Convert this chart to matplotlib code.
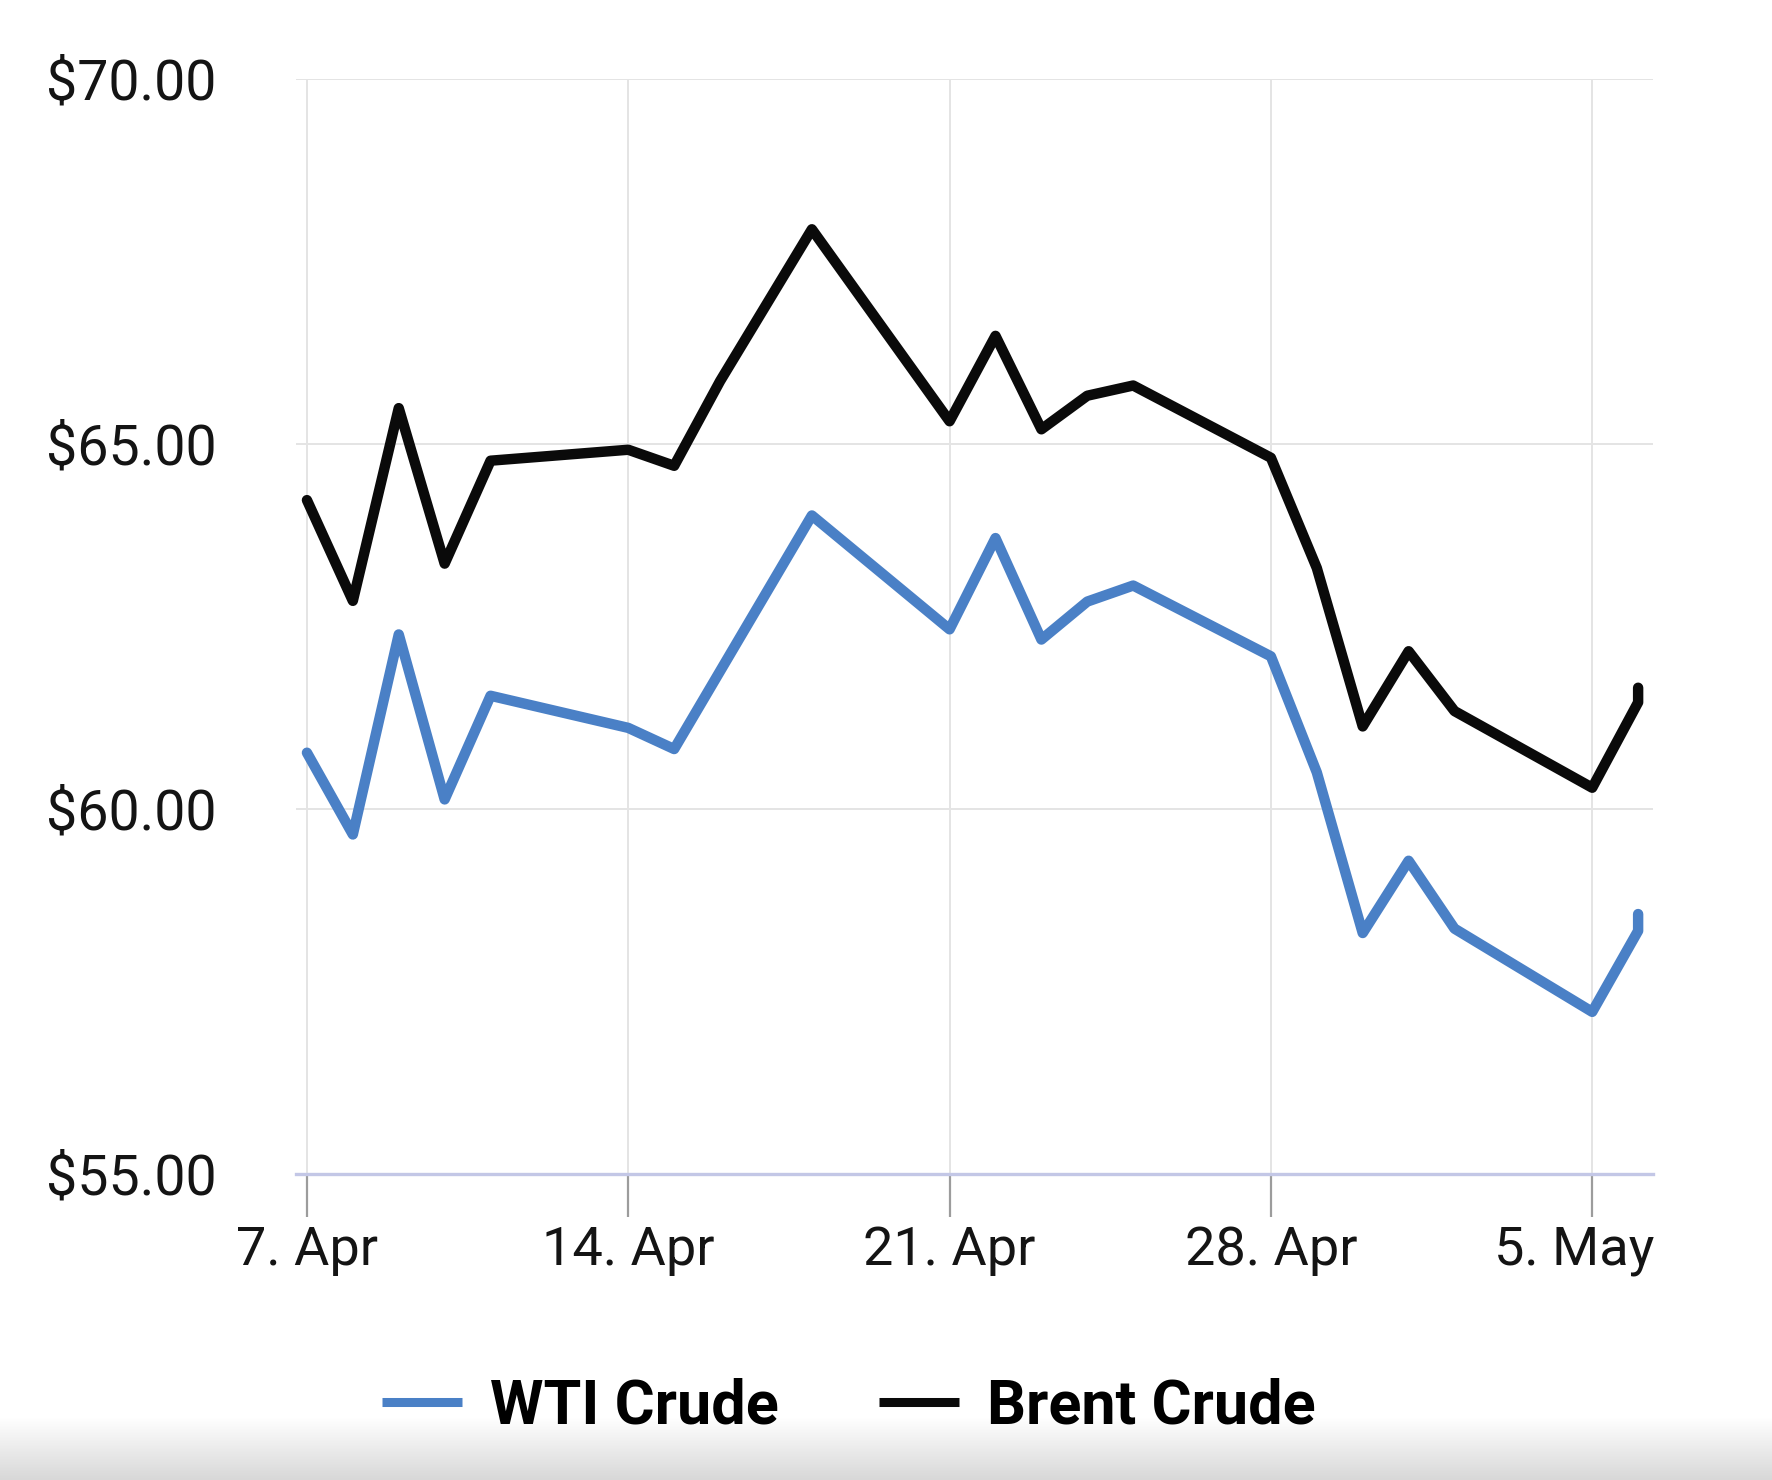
import matplotlib
matplotlib.use('Agg')
import matplotlib.pyplot as plt
import matplotlib.dates as mdates
import matplotlib.transforms as mtransforms
import numpy as np
import pandas as pd
from matplotlib.colors import LinearSegmentedColormap

# Daily closing prices
wti_dates = pd.to_datetime([
    '2025-04-07', '2025-04-08', '2025-04-09', '2025-04-10', '2025-04-11',
    '2025-04-14', '2025-04-15', '2025-04-18',
    '2025-04-21', '2025-04-22', '2025-04-23', '2025-04-24', '2025-04-25',
    '2025-04-28', '2025-04-29', '2025-04-30', '2025-05-01', '2025-05-02',
    '2025-05-05', '2025-05-06', '2025-05-06'])
wti_prices = [60.77, 59.65, 62.39, 60.13, 61.55,
              61.11, 60.82, 64.02,
              62.46, 63.71, 62.32, 62.84, 63.06,
              62.09, 60.50, 58.30, 59.29, 58.36,
              57.22, 58.33, 58.56]

brent_dates = pd.to_datetime([
    '2025-04-07', '2025-04-08', '2025-04-09', '2025-04-10', '2025-04-11',
    '2025-04-14', '2025-04-15', '2025-04-16', '2025-04-18',
    '2025-04-21', '2025-04-22', '2025-04-23', '2025-04-24', '2025-04-25',
    '2025-04-28', '2025-04-29', '2025-04-30', '2025-05-01', '2025-05-02',
    '2025-05-05', '2025-05-06', '2025-05-06'])
brent_prices = [64.23, 62.85, 65.49, 63.36, 64.77,
                64.92, 64.70, 65.86, 67.94,
                65.31, 66.48, 65.20, 65.66, 65.80,
                64.81, 63.30, 61.13, 62.16, 61.34,
                60.29, 61.46, 61.66]

tick_dates = pd.to_datetime(['2025-04-07', '2025-04-14', '2025-04-21',
                             '2025-04-28', '2025-05-05'])
tick_labels = ['7. Apr', '14. Apr', '21. Apr', '28. Apr', '5. May']
y_ticks = [55, 60, 65, 70]
y_tick_labels = ['$55.00', '$60.00', '$65.00', '$70.00']

wti_color = '#4a80c6'
brent_color = '#0a0a0a'

plt.rcParams['font.family'] = ['Roboto', 'DejaVu Sans']

fig = plt.figure(figsize=(17.72, 14.8), dpi=100)
ax = fig.add_axes([0.167, 0.2068, 0.766, 0.7399])

ax.plot(wti_dates, wti_prices, color=wti_color, linewidth=7.5,
        solid_joinstyle='round', solid_capstyle='round', label='WTI Crude', zorder=3)
ax.plot(brent_dates, brent_prices, color=brent_color, linewidth=7.5,
        solid_joinstyle='round', solid_capstyle='round', label='Brent Crude', zorder=4)

start = mdates.date2num(tick_dates[0])
ax.set_xlim(start - 0.24, start + 29.33)
ax.set_ylim(55, 70)

ax.set_xticks(tick_dates)
ax.set_xticklabels(tick_labels)
ax.set_yticks(y_ticks)
ax.set_yticklabels(y_tick_labels)

ax.grid(True, color='#e4e4e4', linewidth=1.4, zorder=0)
ax.set_axisbelow(True)
for side in ['top', 'right', 'left']:
    ax.spines[side].set_visible(False)
ax.spines['bottom'].set_color('#c3c7e6')
ax.spines['bottom'].set_linewidth(2.4)

ax.tick_params(axis='x', length=31, width=1.6, color='#9c9c9c', pad=6,
               labelsize=39, labelcolor='#141414')
ax.tick_params(axis='y', length=0, pad=57, labelsize=40, labelcolor='#141414')

# last date label is pulled back inside the plot edge
last = ax.get_xticklabels()[-1]
last.set_transform(last.get_transform() +
                   mtransforms.ScaledTranslation(-18 / 100, 0, fig.dpi_scale_trans))

leg = fig.legend(loc='center', bbox_to_anchor=(0.479, 0.05), ncol=2, frameon=False,
                 prop={'family': 'Roboto', 'weight': 'bold', 'size': 44},
                 handlelength=1.3, handletextpad=0.46, columnspacing=1.65)
for line in leg.get_lines():
    line.set_linewidth(6.5)
    line.set_solid_capstyle('butt')

# light grey fade along the bottom edge of the screenshot
gax = fig.add_axes([0, 0, 1, 0.042], zorder=-1)
fade = LinearSegmentedColormap.from_list('fade', ['#ffffff', '#d8d8d8'])
gax.imshow(np.linspace(0, 1, 64).reshape(-1, 1), aspect='auto', cmap=fade,
           extent=[0, 1, 1, 0])
gax.axis('off')

fig.savefig('out.png', dpi=100)
